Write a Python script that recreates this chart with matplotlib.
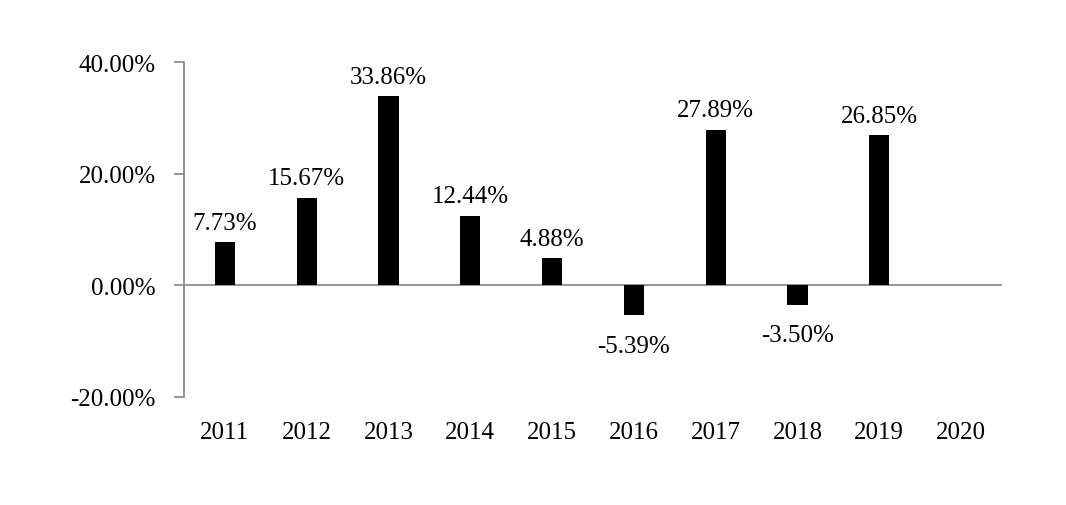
import matplotlib.pyplot as plt
from matplotlib.ticker import FuncFormatter

plt.rcParams['font.family'] = ['Liberation Serif', 'DejaVu Serif']

years = ['2011', '2012', '2013', '2014', '2015', '2016', '2017', '2018', '2019', '2020']
returns = [7.73, 15.67, 33.86, 12.44, 4.88, -5.39, 27.89, -3.50, 26.85, None]
labels = ['7.73%', '15.67%', '33.86%', '12.44%', '4.88%', '-5.39%', '27.89%', '-3.50%', '26.85%', '']

fig = plt.figure(figsize=(10.66, 5.06), dpi=100)
ax = fig.add_axes([184 / 1066, 108 / 506, (1002 - 184) / 1066, (443 - 108) / 506])

gray = '#8c8c8c'
xs = list(range(len(years)))
vals = [v if v is not None else 0 for v in returns]
ax.bar(xs, vals, width=0.245, color='black', zorder=3)
ax.axhline(0, color=gray, lw=1.3, zorder=2)

# value labels above positive bars, below negative ones
for x, v, lab in zip(xs, returns, labels):
    if v is None:
        continue
    off = 14 if v >= 0 else -22
    ax.annotate(lab, (x, v), xytext=(0, off), textcoords='offset points',
                ha='center', va='center', fontsize=18)

ax.set_xlim(-0.5, 9.5)
ax.set_ylim(-20, 40)
ax.set_yticks([-20, 0, 20, 40])
ax.yaxis.set_major_formatter(FuncFormatter(lambda v, p: '%.2f%%' % v))
ax.set_xticks(xs)
ax.set_xticklabels(years)

for s in ['top', 'right', 'bottom']:
    ax.spines[s].set_visible(False)
ax.spines['left'].set_color(gray)
ax.spines['left'].set_linewidth(1.3)

ax.tick_params(axis='y', direction='out', length=7.5, width=1.3, color=gray,
               labelsize=18, pad=13)
ax.tick_params(axis='x', length=0, labelsize=18, pad=17)

fig.savefig('out.png', dpi=100)
